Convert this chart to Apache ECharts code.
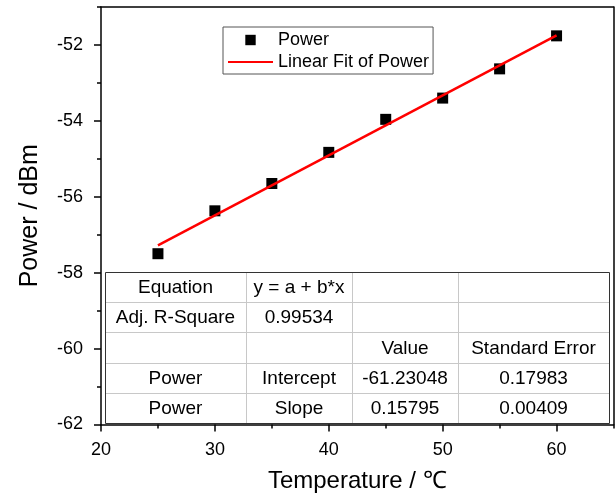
<!DOCTYPE html>
<html>
<head>
<meta charset="utf-8">
<script src="https://cdn.jsdelivr.net/npm/echarts@6/dist/echarts.min.js"></script>
<style>
html, body { margin: 0; padding: 0; background: #fff; }
#chart { width: 615px; height: 502px; }
</style>
</head>
<body>
<div id="chart"></div>
<script>
// measured points
const temperature = [25, 30, 35, 40, 45, 50, 55, 60];
const power = [-57.50, -56.37, -55.65, -54.83, -53.96, -53.40, -52.63, -51.76];

// ends of the fitted line, as drawn
const fitX = [25, 60];
const fitY = [-57.28, -51.75];

// fit report table
const tableRows = [
  ['Equation', 'y = a + b*x', '', ''],
  ['Adj. R-Square', '0.99534', '', ''],
  ['', '', 'Value', 'Standard Error'],
  ['Power', 'Intercept', '-61.23048', '0.17983'],
  ['Power', 'Slope', '0.15795', '0.00409']
];

const FONT = '"Liberation Sans", Arial, Helvetica, sans-serif';

// table placement (px)
const colEdges = [105, 246, 352, 458, 609];
const rowEdges = [272, 302, 332, 363, 393, 423];

function buildTable() {
  const els = [];
  const x0 = colEdges[0], x1 = colEdges[colEdges.length - 1];
  const y0 = rowEdges[0], y1 = rowEdges[rowEdges.length - 1];
  els.push({
    type: 'rect', z: 100,
    shape: { x: x0 + 0.5, y: y0 + 0.5, width: x1 - x0, height: y1 - y0 },
    style: { fill: '#fff', stroke: '#333', lineWidth: 1 }
  });
  for (let i = 1; i < colEdges.length - 1; i++) {
    els.push({
      type: 'line', z: 101,
      shape: { x1: colEdges[i] + 0.5, y1: y0 + 1, x2: colEdges[i] + 0.5, y2: y1 },
      style: { stroke: '#c8c8c8', lineWidth: 1 }
    });
  }
  for (let j = 1; j < rowEdges.length - 1; j++) {
    els.push({
      type: 'line', z: 101,
      shape: { x1: x0 + 1, y1: rowEdges[j] + 0.5, x2: x1, y2: rowEdges[j] + 0.5 },
      style: { stroke: '#c8c8c8', lineWidth: 1 }
    });
  }
  tableRows.forEach(function (row, j) {
    row.forEach(function (txt, i) {
      if (!txt) return;
      els.push({
        type: 'text', z: 102,
        x: (colEdges[i] + colEdges[i + 1]) / 2,
        y: (rowEdges[j] + rowEdges[j + 1]) / 2 + 1,
        style: {
          text: txt, fill: '#000', font: '19px ' + FONT,
          align: 'center', verticalAlign: 'middle'
        }
      });
    });
  });
  return els;
}

const chart = echarts.init(document.getElementById('chart'), null, { renderer: 'canvas' });

const axisCommon = {
  type: 'value',
  splitLine: { show: false },
  axisLine: { show: true, onZero: false, lineStyle: { color: '#000', width: 1.5 } },
  axisTick: { show: true, inside: false, length: 7, lineStyle: { color: '#000', width: 1.5 } },
  axisLabel: { color: '#000', fontSize: 18, fontFamily: FONT, showMaxLabel: false },
  nameTextStyle: { color: '#000', fontFamily: FONT }
};

// extra axes only carry the short minor ticks
const minorCommon = {
  type: 'value',
  splitLine: { show: false },
  axisLine: { show: false },
  axisLabel: { show: false },
  axisTick: { show: true, inside: false, length: 4, lineStyle: { color: '#000', width: 1.5 } }
};

// top / right frame lines
const frameCommon = {
  type: 'value',
  splitLine: { show: false },
  axisTick: { show: false },
  axisLabel: { show: false },
  axisLine: { show: true, onZero: false, lineStyle: { color: '#000', width: 1.5 } }
};

chart.setOption({
  animation: false,
  backgroundColor: '#fff',
  grid: {
    left: 101, right: 1.5, top: 7, bottom: 77.5,
    containLabel: false, outerBoundsMode: 'none'
  },
  legend: {
    orient: 'vertical',
    left: 223, top: 27,
    padding: [3, 4, 2, 4],
    itemWidth: 45, itemHeight: 13, itemGap: 2,
    borderColor: '#555', borderWidth: 1,
    backgroundColor: '#fff',
    textStyle: { color: '#000', fontSize: 18, lineHeight: 20, fontFamily: FONT },
    data: [
      { name: 'Power', lineStyle: { opacity: 0 } },
      { name: 'Linear Fit of Power', itemStyle: { opacity: 0 } }
    ]
  },
  xAxis: [
    Object.assign({}, axisCommon, {
      min: 20, max: 65, interval: 10,
      name: 'Temperature / ℃', nameLocation: 'middle', nameGap: 45,
      nameTextStyle: { color: '#000', fontFamily: FONT, fontSize: 24 },
      axisLabel: Object.assign({}, axisCommon.axisLabel, { margin: 17 })
    }),
    Object.assign({}, minorCommon, { min: 20, max: 65, interval: 5, position: 'bottom' }),
    Object.assign({}, frameCommon, { min: 20, max: 65, position: 'top' })
  ],
  yAxis: [
    Object.assign({}, axisCommon, {
      min: -62, max: -51, interval: 2,
      name: 'Power / dBm', nameLocation: 'middle', nameGap: 58,
      nameTextStyle: { color: '#000', fontFamily: FONT, fontSize: 25 },
      axisLabel: Object.assign({}, axisCommon.axisLabel, { margin: 18 })
    }),
    Object.assign({}, minorCommon, { min: -62, max: -51, interval: 1, position: 'left' }),
    Object.assign({}, frameCommon, { min: -62, max: -51, position: 'right' })
  ],
  series: [
    {
      name: 'Power',
      type: 'line',
      xAxisIndex: 0, yAxisIndex: 0,
      data: temperature.map(function (t, i) { return [t, power[i]]; }),
      symbol: 'rect', symbolSize: 11,
      showSymbol: true, showAllSymbol: true,
      itemStyle: { color: '#000' },
      lineStyle: { opacity: 0 },
      z: 3
    },
    {
      name: 'Linear Fit of Power',
      type: 'line',
      xAxisIndex: 0, yAxisIndex: 0,
      data: fitX.map(function (t, i) { return [t, fitY[i]]; }),
      symbol: 'none', showSymbol: false,
      itemStyle: { color: '#ff0000' },
      lineStyle: { color: '#ff0000', width: 2.5 },
      z: 4
    }
  ],
  graphic: buildTable()
});
</script>
</body>
</html>
